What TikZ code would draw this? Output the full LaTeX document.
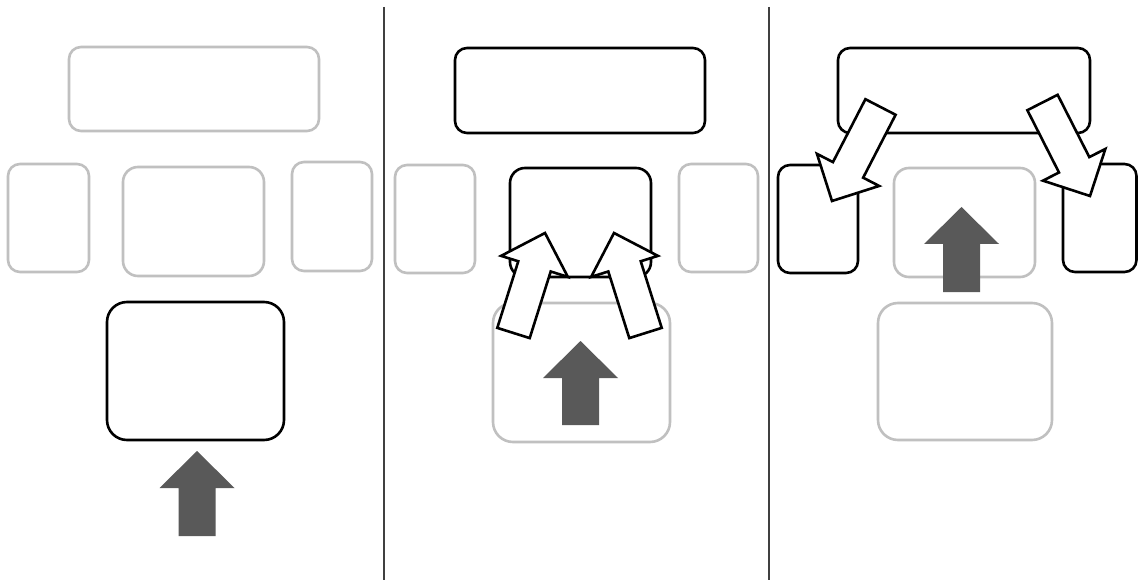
\documentclass[tikz,border=0pt]{standalone}
\usetikzlibrary{calc}
\definecolor{boxgray}{HTML}{C0C0C0}
\definecolor{arrowdark}{HTML}{595959}
\definecolor{divider}{HTML}{404040}
\tikzset{
  bx/.style={draw, rounded corners=#1, line width=2.6pt, fill=white, inner sep=0pt, minimum width=0pt, minimum height=0pt},
  onbox/.style={bx=#1, draw=black},
  offbox/.style={bx=#1, draw=boxgray},
  whitearrow/.style={draw=black, fill=white, line width=2.6pt, line join=miter},
  darkarrow/.style={fill=arrowdark, draw=none},
  divline/.style={draw=divider, line width=1.3pt}
}
% #1 prefix, #2 tail, #3 tip, #4 shaft half, #5 head half, #6 head length, #7 style
\newcommand\blockarrow[7]{%
  \coordinate (#1b) at ($(#3)!#6!(#2)$);
  \path[#7] ($(#2)!#4!90:(#3)$) -- ($(#1b)!#4!90:(#3)$) -- ($(#1b)!#5!90:(#3)$) -- (#3)
     -- ($(#1b)!#5!-90:(#3)$) -- ($(#1b)!#4!-90:(#3)$) -- ($(#2)!#4!-90:(#3)$) -- cycle;}
% box by corners
\newcommand\boxat[6]{% #1 style, #2 name, #3 x1, #4 y1, #5 x2, #6 y2
  \node[#1, minimum width={(#5)-(#3)}, minimum height={(#6)-(#4)}] (#2) at ({((#3)+(#5))/2},{((#4)+(#6))/2}) {};}
\begin{document}
\begin{tikzpicture}[x=1pt,y=-1pt]
\useasboundingbox (0,0) rectangle (1138,580);
\fill[white] (0,0) rectangle (1138,580);
% dividers
\coordinate (d1t) at (384,7); \coordinate (d1b) at (384,580);
\coordinate (d2t) at (769,7); \coordinate (d2b) at (769,580);
\draw[divline] (d1t) -- (d1b);
\draw[divline] (d2t) -- (d2b);

% ---- Panel 1 ----
\boxat{offbox=12pt}{p1top}{69}{47}{319}{131}
\boxat{offbox=12pt}{p1left}{8}{164}{89}{272}
\boxat{offbox=15pt}{p1mid}{123}{167}{264}{276}
\boxat{offbox=12pt}{p1right}{292}{162}{372}{271}
\boxat{onbox=20pt}{p1bot}{107}{302}{284}{440}
\coordinate (p1at) at (197,536); \coordinate (p1ap) at (197,451);
\blockarrow{p1a}{p1at}{p1ap}{18.5pt}{37.5pt}{37pt}{darkarrow}

% ---- Panel 2 ----
\boxat{onbox=12pt}{p2top}{455}{48}{705}{133}
\boxat{offbox=12pt}{p2left}{395}{165}{475}{273}
\boxat{onbox=15pt}{p2mid}{510}{168}{651}{277}
\boxat{offbox=12pt}{p2right}{679}{164}{758}{272}
\boxat{offbox=20pt}{p2bot}{493}{303}{670}{442}
\coordinate (p2at) at (580.5,425); \coordinate (p2ap) at (580.5,341);
\blockarrow{p2a}{p2at}{p2ap}{18.5pt}{37.5pt}{37pt}{darkarrow}
\coordinate (p2lt) at (513.5,333); \coordinate (p2lp) at (545,233);
\blockarrow{p2l}{p2lt}{p2lp}{17pt}{35pt}{35pt}{whitearrow}
\coordinate (p2rt) at (645.5,333); \coordinate (p2rp) at (614,233);
\blockarrow{p2r}{p2rt}{p2rp}{17pt}{35pt}{35pt}{whitearrow}

% ---- Panel 3 ----
\boxat{onbox=12pt}{p3top}{838}{48}{1090}{133}
\boxat{onbox=12pt}{p3left}{778}{165}{858}{273}
\boxat{offbox=15pt}{p3mid}{894}{168}{1035}{277}
\boxat{onbox=12pt}{p3right}{1063}{164}{1136.5}{272}
\boxat{offbox=20pt}{p3bot}{878}{303}{1052}{440}
\coordinate (p3at) at (961.5,292); \coordinate (p3ap) at (961.5,207);
\blockarrow{p3a}{p3at}{p3ap}{18.5pt}{37.5pt}{37pt}{darkarrow}
\coordinate (p3lt) at (880.5,107); \coordinate (p3lp) at (832,201);
\blockarrow{p3l}{p3lt}{p3lp}{17pt}{35pt}{35pt}{whitearrow}
\coordinate (p3rt) at (1042.5,102.5); \coordinate (p3rp) at (1090,196);
\blockarrow{p3r}{p3rt}{p3rp}{17pt}{35pt}{35pt}{whitearrow}
\end{tikzpicture}
\end{document}
